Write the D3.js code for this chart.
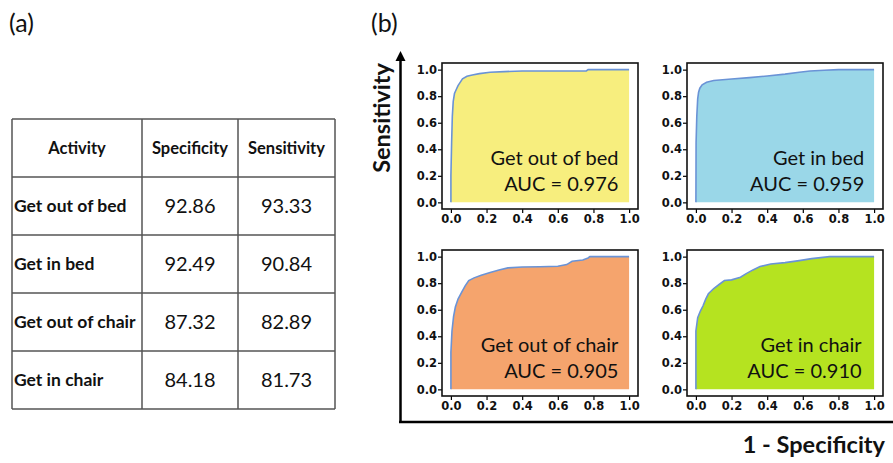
<!DOCTYPE html>
<html>
<head>
<meta charset="utf-8">
<script src="https://cdn.jsdelivr.net/npm/d3@7"></script>
<style>
  html, body { margin: 0; padding: 0; background: #fff; }
  svg { display: block; }
</style>
</head>
<body>
<svg id="fig" width="893" height="463"></svg>
<script>
// ---- table values ----
const activities = ["Get out of bed", "Get in bed", "Get out of chair", "Get in chair"];
const specificity = [92.86, 92.49, 87.32, 84.18];
const sensitivity = [93.33, 90.84, 82.89, 81.73];
const tableHeaders = ["Activity", "Specificity", "Sensitivity"];

// ---- ROC panels ----
const aucValues = [0.976, 0.959, 0.905, 0.910];
const axisTicks = [0, 0.2, 0.4, 0.6, 0.8, 1.0];

// ROC curve points as [false positive rate, true positive rate]
const rocOutOfBed = [
  [0, 0], [0, 0.2], [0.004, 0.45], [0.008, 0.65], [0.013, 0.76], [0.02, 0.82],
  [0.03, 0.85], [0.04, 0.88], [0.05, 0.9], [0.065, 0.93], [0.09, 0.95],
  [0.12, 0.96], [0.16, 0.97], [0.22, 0.98], [0.3, 0.985], [0.4, 0.99],
  [0.6, 0.99], [0.76, 0.99], [0.77, 1.0], [1.0, 1.0]
];
const rocInBed = [
  [0, 0], [0.001, 0.45], [0.005, 0.65], [0.01, 0.78], [0.015, 0.83],
  [0.022, 0.86], [0.035, 0.885], [0.06, 0.905], [0.1, 0.918], [0.15, 0.924],
  [0.2, 0.93], [0.3, 0.94], [0.4, 0.952], [0.5, 0.966], [0.58, 0.98],
  [0.64, 0.99], [0.72, 0.995], [0.8, 1.0], [1.0, 1.0]
];
const rocOutOfChair = [
  [0, 0], [0, 0.28], [0.006, 0.44], [0.015, 0.55], [0.025, 0.62],
  [0.04, 0.68], [0.06, 0.73], [0.08, 0.78], [0.1, 0.82], [0.13, 0.84],
  [0.17, 0.86], [0.22, 0.88], [0.27, 0.9], [0.32, 0.915], [0.4, 0.922],
  [0.5, 0.924], [0.6, 0.928], [0.65, 0.94], [0.68, 0.965], [0.74, 0.975],
  [0.77, 0.99], [0.78, 1.0], [1.0, 1.0]
];
const rocInChair = [
  [0, 0], [0, 0.44], [0.01, 0.54], [0.025, 0.59], [0.04, 0.63],
  [0.055, 0.68], [0.07, 0.72], [0.1, 0.76], [0.13, 0.79], [0.16, 0.82],
  [0.2, 0.825], [0.25, 0.845], [0.28, 0.87], [0.32, 0.9], [0.36, 0.925],
  [0.42, 0.945], [0.5, 0.955], [0.58, 0.97], [0.65, 0.985], [0.75, 1.0],
  [1.0, 1.0]
];
const rocCurves = [rocOutOfBed, rocInBed, rocOutOfChair, rocInChair];

const fillColors = ["#f7ee7e", "#9ad7e8", "#f5a46d", "#b5e320"];
const curveColor = "#6a93d6";
const labelFont = "Lato, 'Open Sans', sans-serif";

const svg = d3.select("#fig");

// ---------- (a) table ----------
svg.append("text").attr("x", 9).attr("y", 32)
  .attr("font-family", labelFont).attr("font-size", 25).attr("fill", "#111")
  .text("(a)");

const colEdges = [12, 142, 238, 335];
const rowEdges = [119, 177, 235, 293, 351, 409];
const tableG = svg.append("g");

// cell text
tableHeaders.forEach((h, j) => {
  tableG.append("text")
    .attr("x", (colEdges[j] + colEdges[j + 1]) / 2)
    .attr("y", (rowEdges[0] + rowEdges[1]) / 2 + 6)
    .attr("text-anchor", "middle")
    .attr("font-family", labelFont).attr("font-weight", 700).attr("font-size", 16.5)
    .attr("fill", "#111").text(h);
});
activities.forEach((a, i) => {
  const yMid = (rowEdges[i + 1] + rowEdges[i + 2]) / 2;
  tableG.append("text")
    .attr("x", colEdges[0] + 2).attr("y", yMid + 6)
    .attr("font-family", labelFont).attr("font-weight", 700).attr("font-size", 17.5)
    .attr("fill", "#111").text(a);
  [specificity[i], sensitivity[i]].forEach((v, k) => {
    tableG.append("text")
      .attr("x", (colEdges[k + 1] + colEdges[k + 2]) / 2)
      .attr("y", yMid + 7)
      .attr("text-anchor", "middle")
      .attr("font-family", labelFont).attr("font-size", 20)
      .attr("fill", "#111").text(v.toFixed(2));
  });
});

// grid lines
rowEdges.forEach(y => {
  tableG.append("line").attr("x1", colEdges[0]).attr("x2", colEdges[3])
    .attr("y1", y).attr("y2", y).attr("stroke", "#555").attr("stroke-width", 1.5);
});
colEdges.forEach(x => {
  tableG.append("line").attr("x1", x).attr("x2", x)
    .attr("y1", rowEdges[0]).attr("y2", rowEdges[rowEdges.length - 1])
    .attr("stroke", "#555").attr("stroke-width", 1.5);
});

// ---------- (b) ROC grid ----------
svg.append("text").attr("x", 371).attr("y", 32)
  .attr("font-family", labelFont).attr("font-size", 25).attr("fill", "#111")
  .text("(b)");

// big axes with arrow
svg.append("defs").append("marker")
  .attr("id", "arrow").attr("viewBox", "0 0 10 10")
  .attr("refX", 5).attr("refY", 5)
  .attr("markerWidth", 4).attr("markerHeight", 5).attr("orient", "auto")
  .append("path").attr("d", "M0,0 L10,5 L0,10 z").attr("fill", "#000");

svg.append("line").attr("x1", 400.5).attr("x2", 400.5).attr("y1", 422).attr("y2", 56)
  .attr("stroke", "#000").attr("stroke-width", 2.5).attr("marker-end", "url(#arrow)");
svg.append("line").attr("x1", 399).attr("x2", 893).attr("y1", 422).attr("y2", 422)
  .attr("stroke", "#000").attr("stroke-width", 2.5);

svg.append("text")
  .attr("transform", "translate(390,118) rotate(-90)")
  .attr("text-anchor", "middle")
  .attr("font-family", labelFont).attr("font-weight", 700).attr("font-size", 23.5)
  .attr("fill", "#111").text("Sensitivity");

svg.append("text").attr("x", 885).attr("y", 453).attr("text-anchor", "end")
  .attr("font-family", labelFont).attr("font-weight", 700).attr("font-size", 23.5)
  .attr("fill", "#111").text("1 - Specificity");

const panelW = 196, panelH = 146;
const panelOrigins = [[442, 63], [687, 63], [442, 250], [687, 250]];
const labelRight = [0.94, 0.945, 0.94, 0.93];

rocCurves.forEach((curve, i) => {
  const [px, py] = panelOrigins[i];
  const x = d3.scaleLinear().domain([-0.05, 1.05]).range([px, px + panelW]);
  const y = d3.scaleLinear().domain([-0.05, 1.05]).range([py + panelH, py]);
  const g = svg.append("g");

  g.append("path").datum(curve)
    .attr("d", d3.area().x(d => x(d[0])).y0(y(0)).y1(d => y(d[1])))
    .attr("fill", fillColors[i]);
  g.append("path").datum(curve)
    .attr("d", d3.line().x(d => x(d[0])).y(d => y(d[1])))
    .attr("fill", "none").attr("stroke", curveColor).attr("stroke-width", 1.6);

  const nameY = y(0.285), aucY = y(0.083);
  g.append("text").attr("x", x(labelRight[i])).attr("y", nameY)
    .attr("text-anchor", "end").attr("font-family", labelFont).attr("font-size", 20)
    .attr("fill", "#111").text(activities[i]);
  g.append("text").attr("x", x(labelRight[i])).attr("y", aucY)
    .attr("text-anchor", "end").attr("font-family", labelFont).attr("font-size", 20)
    .attr("fill", "#111").text("AUC = " + aucValues[i].toFixed(3));

  const axStyle = sel => {
    sel.select(".domain").remove();
    sel.selectAll("line").attr("stroke", "#000").attr("stroke-width", 1.2);
    sel.selectAll("text").attr("font-family", "'DejaVu Sans', sans-serif")
      .attr("font-weight", 700).attr("font-size", 11.5).attr("fill", "#111");
  };
  g.append("g").attr("transform", `translate(0,${py + panelH})`)
    .call(d3.axisBottom(x).tickValues(axisTicks).tickFormat(d3.format(".1f"))
      .tickSize(4).tickPadding(2))
    .call(axStyle);
  g.append("g").attr("transform", `translate(${px},0)`)
    .call(d3.axisLeft(y).tickValues(axisTicks).tickFormat(d3.format(".1f"))
      .tickSize(4).tickPadding(1))
    .call(axStyle);

  g.append("rect").attr("x", px).attr("y", py).attr("width", panelW).attr("height", panelH)
    .attr("fill", "none").attr("stroke", "#111").attr("stroke-width", 1.6);
});
</script>
</body>
</html>
